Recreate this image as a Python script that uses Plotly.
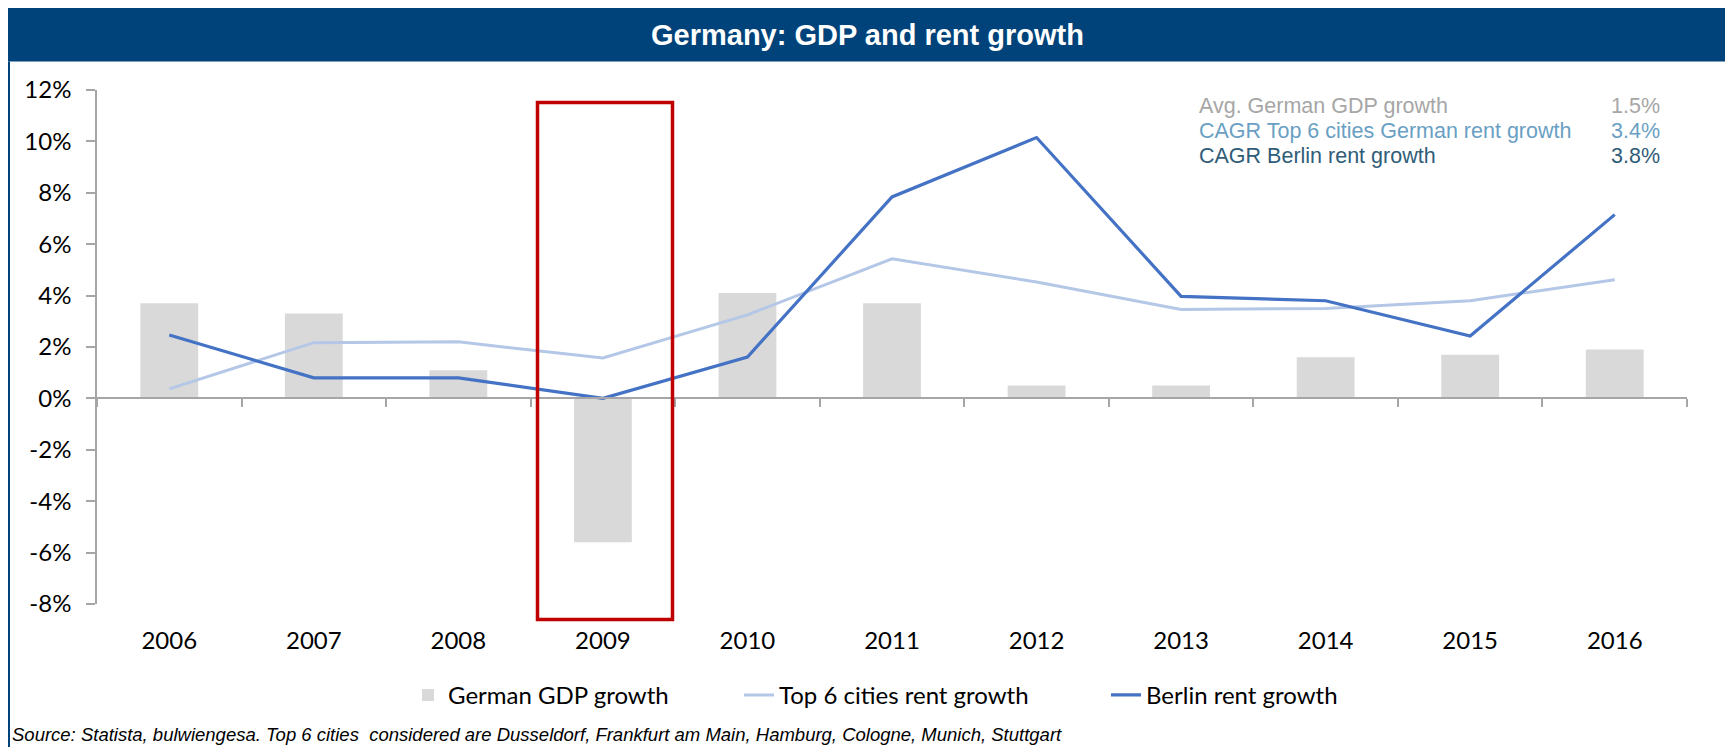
import plotly.graph_objects as go

years = ['2006', '2007', '2008', '2009', '2010', '2011', '2012', '2013', '2014', '2015', '2016']
gdp_growth = [3.7, 3.3, 1.1, -5.6, 4.1, 3.7, 0.5, 0.5, 1.6, 1.7, 1.9]
top6_rent = [0.37, 2.17, 2.2, 1.57, 3.25, 5.43, 4.53, 3.46, 3.5, 3.8, 4.62]
berlin_rent = [2.47, 0.8, 0.8, 0.0, 1.61, 7.84, 10.15, 3.97, 3.8, 2.43, 7.15]

y_tickvals = [-8, -6, -4, -2, 0, 2, 4, 6, 8, 10, 12]
y_ticktext = ['-8%', '-6%', '-4%', '-2%', '0%', '2%', '4%', '6%', '8%', '10%', '12%']

stat_labels = ['Avg. German GDP growth', 'CAGR Top 6 cities German rent growth', 'CAGR Berlin rent growth']
stat_values = ['1.5%', '3.4%', '3.8%']
stat_colors = ['#a6a6a6', '#6a9fc3', '#2f5c78']

# page body has an 8px margin; figure is sized to fill the rest of the window
OFF = 8
W, H = 1733 - OFF, 747 - OFF
PLOT_L, PLOT_R, PLOT_T, PLOT_B = 97, 1687, 89.5, 604.5   # page pixels
L, R, T, B = PLOT_L - OFF, W - (PLOT_R - OFF), PLOT_T - OFF, H - (PLOT_B - OFF)
PW, PH = PLOT_R - PLOT_L, PLOT_B - PLOT_T


def px(x):
    return (x - PLOT_L) / PW


def py(y):
    return (PLOT_B - y) / PH


CAL = 'Lato, Carlito, Calibri, sans-serif'
ARI = 'Arial, Liberation Sans, sans-serif'

fig = go.Figure()
fig.add_trace(go.Bar(x=years, y=gdp_growth, name='German GDP growth',
                     marker=dict(color='#d9d9d9', line=dict(width=0)),
                     xaxis='x', yaxis='y', legend='legend'))
fig.add_trace(go.Scatter(x=years, y=top6_rent, name='Top 6 cities rent growth', mode='lines',
                         line=dict(color='#b4c7e7', width=3), xaxis='x2', yaxis='y', legend='legend2'))
fig.add_trace(go.Scatter(x=years, y=berlin_rent, name='Berlin rent growth', mode='lines',
                         line=dict(color='#4472c4', width=3.2), xaxis='x2', yaxis='y', legend='legend3'))

shapes = []
shapes.append(dict(type='rect', xref='paper', yref='paper', x0=px(8), x1=px(1727), y0=py(61), y1=py(0),
                   fillcolor='#00437a', line=dict(width=0), layer='below'))
for xx in (9, 1727):
    shapes.append(dict(type='line', xref='paper', yref='paper', x0=px(xx), x1=px(xx), y0=py(61), y1=py(760),
                       line=dict(color='#00437a', width=2)))
shapes.append(dict(type='rect', xref='paper', yref='paper', x0=px(537.5), x1=px(672.5), y0=py(620), y1=py(102),
                   line=dict(color='#c00000', width=3.5), fillcolor='rgba(0,0,0,0)'))

annotations = []
annotations.append(dict(text='<b>Germany: GDP and rent growth</b>', xref='paper', yref='paper',
                        x=px(867), y=py(34), xanchor='center', yanchor='middle', showarrow=False,
                        font=dict(family=ARI, size=29, color='white')))
for i, (lab, val, col) in enumerate(zip(stat_labels, stat_values, stat_colors)):
    yy = 106 + i * 24.8
    annotations.append(dict(text=lab, xref='paper', yref='paper', x=px(1197), y=py(yy), xanchor='left',
                            yanchor='middle', showarrow=False, font=dict(family=ARI, size=21.5, color=col)))
    annotations.append(dict(text=val, xref='paper', yref='paper', x=px(1662), y=py(yy), xanchor='right',
                            yanchor='middle', showarrow=False, font=dict(family=ARI, size=21.5, color=col)))
annotations.append(dict(text='Source: Statista, bulwiengesa. Top 6 cities  considered are Dusseldorf, Frankfurt am Main, Hamburg, Cologne, Munich, Stuttgart',
                        xref='paper', yref='paper', x=px(10), y=py(735), xanchor='left', yanchor='middle',
                        showarrow=False, font=dict(family=ARI, size=18.5, color='black', style='italic')))

leg_common = dict(orientation='h', xanchor='left', y=py(696), yanchor='middle',
                  font=dict(family=CAL, size=24, color='black'), bgcolor='rgba(0,0,0,0)',
                  borderwidth=0)
text_starts = [448, 779, 1146]

fig.update_layout(
    width=W, height=H,
    margin=dict(l=L, r=R, t=T, b=B, pad=0),
    paper_bgcolor='white', plot_bgcolor='white',
    bargap=0.6,
    showlegend=True,
    legend=dict(x=px(text_starts[0] - 40), **leg_common),
    legend2=dict(x=px(text_starts[1] - 40), **leg_common),
    legend3=dict(x=px(text_starts[2] - 40), **leg_common),
    xaxis=dict(type='category', range=[-0.5, 10.5], showline=False, showgrid=False, zeroline=False,
               ticks='', tickfont=dict(family=CAL, size=24, color='black'), ticklabelstandoff=20),
    xaxis2=dict(type='category', overlaying='x', anchor='free', position=0.4, side='bottom',
                range=[-0.5, 10.5], showline=True, linecolor='#a6a6a6', linewidth=1.5,
                ticks='outside', tickson='boundaries', ticklen=8, tickcolor='#a6a6a6', tickwidth=1.5,
                showticklabels=False, showgrid=False, zeroline=False, categoryorder='array',
                categoryarray=years),
    yaxis=dict(range=[-8, 12], tickvals=y_tickvals, ticktext=y_ticktext, showgrid=False, zeroline=False,
               showline=True, linecolor='#a6a6a6', linewidth=1.5, ticks='outside', ticklen=9,
               tickcolor='#a6a6a6', tickwidth=1.5, tickfont=dict(family=CAL, size=24, color='black'),
               ticklabelstandoff=10),
    shapes=shapes,
    annotations=annotations,
)

fig.write_html('out.html')
